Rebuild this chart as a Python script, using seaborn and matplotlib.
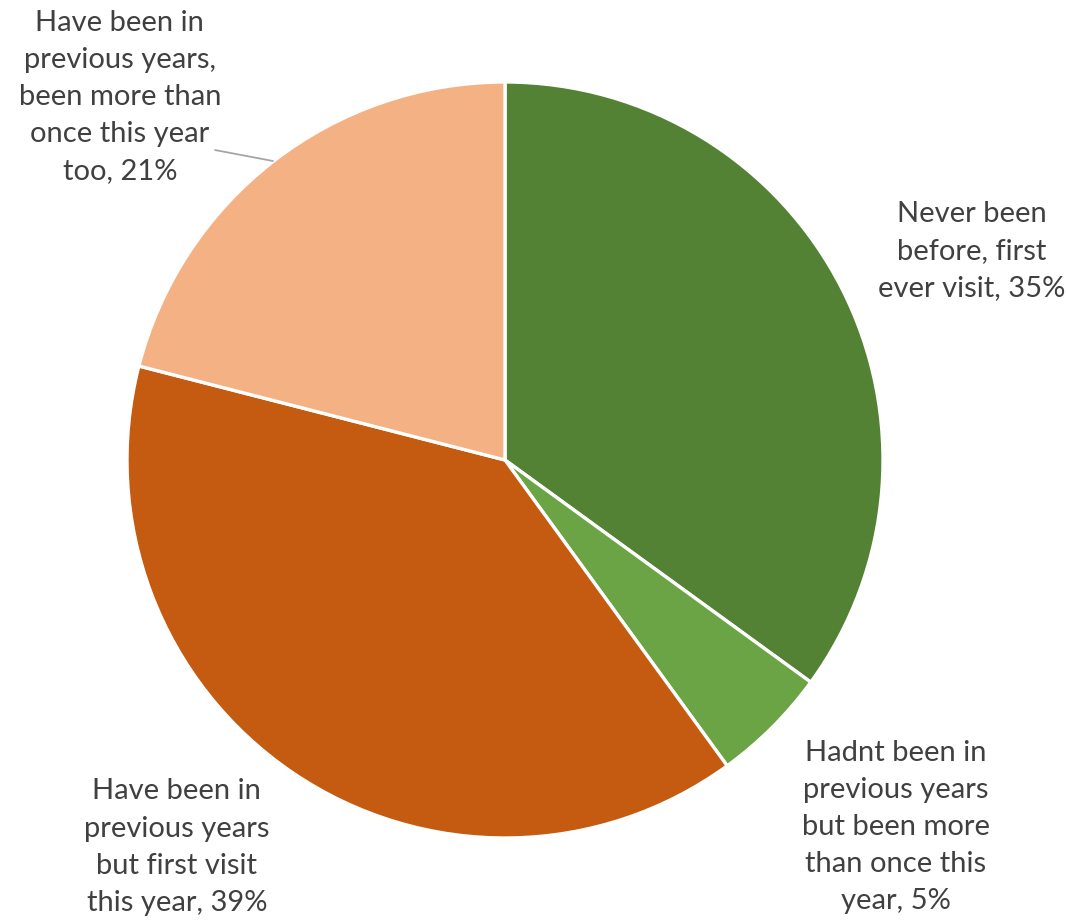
import matplotlib
matplotlib.use("Agg")
import matplotlib.pyplot as plt
import seaborn as sns

sns.set_theme(style="white")
plt.rcParams['font.family'] = ['Lato', 'DejaVu Sans']

# data
categories = [
    "Never been\nbefore, first\never visit",
    "Hadnt been in\nprevious years\nbut been more\nthan once this\nyear",
    "Have been in\nprevious years\nbut first visit\nthis year",
    "Have been in\nprevious years,\nbeen more than\nonce this year\ntoo",
]
shares = [35, 5, 39, 21]
colors = ["#548235", "#6aa444", "#c55a11", "#f4b183"]

# label anchor points (pie radius units), as placed by hand in the original
label_pos = [(1.235, 0.553), (1.034, -0.971), (-0.868, -1.024), (-1.019, 0.960)]

fig = plt.figure(figsize=(10.66, 9.21), dpi=100)
ax = fig.add_axes([0, 0, 1, 1])

ax.pie(shares, colors=colors, startangle=90, counterclock=False,
       radius=1.0, wedgeprops={'edgecolor': 'white', 'linewidth': 2.4})

for cat, val, (x, y) in zip(categories, shares, label_pos):
    ax.text(x, y, f"{cat}, {val}%", ha='center', va='center',
            fontsize=21, color='#404040', linespacing=1.53)

# leader line for the 21% label
ax.plot([-0.767, -0.614], [0.820, 0.791], color='#a6a6a6', lw=1.3)

ax.set_xlim(-505 / 378, (1066 - 505) / 378)
ax.set_ylim(-(921 - 460) / 378, 460 / 378)
ax.set_aspect('auto')
ax.axis('off')

fig.savefig("out.png", dpi=100)
